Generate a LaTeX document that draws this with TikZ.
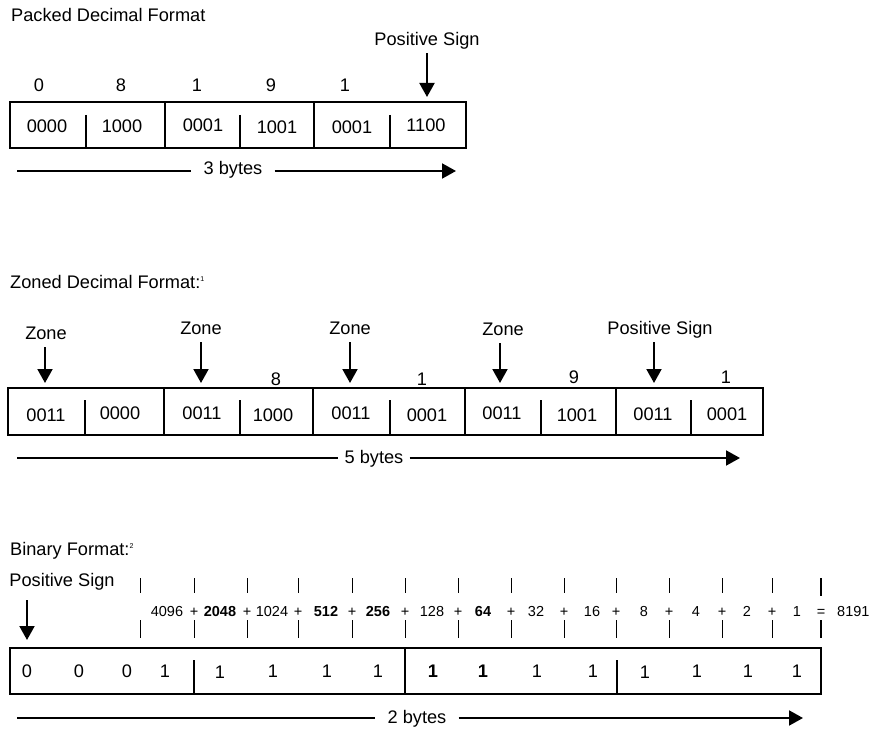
\documentclass[tikz,border=0pt]{standalone}
\usepackage{fontspec}
\setmainfont{Liberation Sans}
\usetikzlibrary{arrows.meta}
\tikzset{
  heading/.style = {
    anchor=base west, inner sep=0pt, font=\fontsize{18.2}{20}\selectfont
  },
  tag/.style = {
    anchor=base, inner sep=0pt, text depth=4pt,
    font=\fontsize{18.2}{20}\selectfont
  },
  cell/.style = {
    anchor=base, inner sep=0pt, font=\fontsize{18.2}{20}\selectfont
  },
  weight/.style = {
    anchor=base, inner sep=0pt, font=\fontsize{14.5}{16}\selectfont
  },
  extent/.style = {
    anchor=base, inner sep=0pt, inner xsep=12pt,
    font=\fontsize{18.2}{20}\selectfont
  },
  frame/.style = { draw=black, line width=1.5pt },
  nibble/.style = { draw=black, line width=1.9pt },
  thinframe/.style = { draw=black, line width=1.1pt },
  pointer/.style = {
    draw=black, line width=2pt, shorten <=3pt,
    -{Triangle[length=14pt,width=15pt]}
  },
  bar/.style = { draw=black, line width=2pt },
  bararrow/.style = { bar, -{Triangle[length=14pt,width=15pt]} },
  tick/.style = { draw=black, line width=1pt }
}

\begin{document}
\begin{tikzpicture}[x=1pt, y=-1pt]

    \useasboundingbox (0,0) rectangle (871,730);

    % ------------------------------------------------------ Packed decimal
    \node [heading] (packtitle) at (11,22) {Packed Decimal Format};

    \node [tag] (psign1) at (427,46) {Positive Sign};
    \coordinate (psign1tip) at (427,97);

    \node [cell] (pd1) at (39,92)  {0};
    \node [cell] (pd2) at (121,92) {8};
    \node [cell] (pd3) at (197,92) {1};
    \node [cell] (pd4) at (271,92) {9};
    \node [cell] (pd5) at (345,92) {1};

    \draw [frame]  (10,102) rectangle (466,148);
    \draw [nibble] (165,102) -- (165,148);
    \draw [nibble] (314,102) -- (314,148);
    \draw [nibble] (86,115)  -- (86,148);
    \draw [nibble] (240,115) -- (240,148);
    \draw [nibble] (390,115) -- (390,148);

    \node [cell] (pc1) at (47,133)  {0000};
    \node [cell] (pc2) at (122,133) {1000};
    \node [cell] (pc3) at (203,132) {0001};
    \node [cell] (pc4) at (277,134) {1001};
    \node [cell] (pc5) at (352,134) {0001};
    \node [cell] (pc6) at (426,132) {1100};

    \node [extent] (bytes3) at (233,175) {3 bytes};
    \coordinate (b3from) at (17,171);
    \coordinate (b3to)   at (456,171);

    \draw [pointer] (psign1.south) -- (psign1tip);
    \draw [bar]      (b3from) -- (b3from -| bytes3.west);
    \draw [bararrow] (b3from -| bytes3.east) -- (b3to);

    % ------------------------------------------------------- Zoned decimal
    \node [heading] (zonetitle) at (10,289)
      {Zoned Decimal Format:\raisebox{7pt}{\fontsize{7}{8}\selectfont 1}};

    \node [tag] (zone1)  at (46,340)  {Zone};
    \node [tag] (zone2)  at (201,335) {Zone};
    \node [tag] (zone3)  at (350,335) {Zone};
    \node [tag] (zone4)  at (503,336) {Zone};
    \node [tag] (psign2) at (660,335) {Positive Sign};
    \coordinate (zone1tip)  at (45,383);
    \coordinate (zone2tip)  at (201,383);
    \coordinate (zone3tip)  at (350,383);
    \coordinate (zone4tip)  at (500,383);
    \coordinate (psign2tip) at (654,383);

    \node [cell] (zd1) at (276,385) {8};
    \node [cell] (zd2) at (422,385) {1};
    \node [cell] (zd3) at (574,384) {9};
    \node [cell] (zd4) at (726,384) {1};

    \draw [frame]  (8,388) rectangle (763,435);
    \draw [nibble] (164,388) -- (164,435);
    \draw [nibble] (313,388) -- (313,435);
    \draw [nibble] (465,388) -- (465,435);
    \draw [nibble] (616,388) -- (616,435);
    \draw [nibble] (85,400)  -- (85,435);
    \draw [nibble] (240,400) -- (240,435);
    \draw [nibble] (390,400) -- (390,435);
    \draw [nibble] (541,400) -- (541,435);
    \draw [nibble] (691,400) -- (691,435);

    \node [cell] (zc1)  at (46,421)  {0011};
    \node [cell] (zc2)  at (120,419) {0000};
    \node [cell] (zc3)  at (202,419) {0011};
    \node [cell] (zc4)  at (273,421) {1000};
    \node [cell] (zc5)  at (351,419) {0011};
    \node [cell] (zc6)  at (427,421) {0001};
    \node [cell] (zc7)  at (502,419) {0011};
    \node [cell] (zc8)  at (577,421) {1001};
    \node [cell] (zc9)  at (653,420) {0011};
    \node [cell] (zc10) at (727,420) {0001};

    \node [extent, inner xsep=6pt] (bytes5) at (374,463) {5 bytes};
    \coordinate (b5from) at (17,458);
    \coordinate (b5to)   at (740,458);

    \draw [pointer] (zone1.south -| zone1tip)   -- (zone1tip);
    \draw [pointer] (zone2.south -| zone2tip)   -- (zone2tip);
    \draw [pointer] (zone3.south -| zone3tip)   -- (zone3tip);
    \draw [pointer] (zone4.south -| zone4tip)   -- (zone4tip);
    \draw [pointer] (psign2.south -| psign2tip) -- (psign2tip);
    \draw [bar]      (b5from) -- (b5from -| bytes5.west);
    \draw [bararrow] (b5from -| bytes5.east) -- (b5to);

    % -------------------------------------------------------------- Binary
    \node [heading] (bintitle) at (10,555)
      {Binary Format:\raisebox{7pt}{\fontsize{7}{8}\selectfont 2}};

    \node [tag] (psign3) at (62,586) {Positive Sign};
    \coordinate (psign3tip) at (27,640);

    % weights row
    \node [weight] (w1)  at (167,616) {4096};
    \node [weight] (w2)  at (220,616) {\bfseries 2048};
    \node [weight] (w3)  at (272,616) {1024};
    \node [weight] (w4)  at (326,616) {\bfseries 512};
    \node [weight] (w5)  at (378,616) {\bfseries 256};
    \node [weight] (w6)  at (432,616) {128};
    \node [weight] (w7)  at (483,616) {\bfseries 64};
    \node [weight] (w8)  at (536,616) {32};
    \node [weight] (w9)  at (592,616) {16};
    \node [weight] (w10) at (644,616) {8};
    \node [weight] (w11) at (696,616) {4};
    \node [weight] (w12) at (747,616) {2};
    \node [weight] (w13) at (797,616) {1};

    \node [weight] (p1)  at (194,616) {+};
    \node [weight] (p2)  at (247,616) {+};
    \node [weight] (p3)  at (298,616) {+};
    \node [weight] (p4)  at (352,616) {+};
    \node [weight] (p5)  at (405,616) {+};
    \node [weight] (p6)  at (458,616) {+};
    \node [weight] (p7)  at (511,616) {+};
    \node [weight] (p8)  at (564,616) {+};
    \node [weight] (p9)  at (616,616) {+};
    \node [weight] (p10) at (669,616) {+};
    \node [weight] (p11) at (722,616) {+};
    \node [weight] (p12) at (772,616) {+};
    \node [weight] (equal) at (821,616) {=};
    \node [weight, anchor=base west] (total) at (837,616) {8191};

    % upper and lower tick marks
    \draw [tick] (140,578) -- (140,593);  \draw [tick] (140,620) -- (140,638);
    \draw [tick] (194,578) -- (194,593);  \draw [tick] (194,620) -- (194,638);
    \draw [tick] (247,578) -- (247,593);  \draw [tick] (247,620) -- (247,638);
    \draw [tick] (298,578) -- (298,593);  \draw [tick] (298,620) -- (298,638);
    \draw [tick] (352,578) -- (352,593);  \draw [tick] (352,620) -- (352,638);
    \draw [tick] (405,578) -- (405,593);  \draw [tick] (405,620) -- (405,638);
    \draw [tick] (458,578) -- (458,593);  \draw [tick] (458,620) -- (458,638);
    \draw [tick] (511,578) -- (511,593);  \draw [tick] (511,620) -- (511,638);
    \draw [tick] (564,578) -- (564,593);  \draw [tick] (564,620) -- (564,638);
    \draw [tick] (616,578) -- (616,593);  \draw [tick] (616,620) -- (616,638);
    \draw [tick] (669,578) -- (669,593);  \draw [tick] (669,620) -- (669,638);
    \draw [tick] (722,578) -- (722,593);  \draw [tick] (722,620) -- (722,638);
    \draw [tick] (772,578) -- (772,593);  \draw [tick] (772,620) -- (772,638);
    \draw [tick, line width=1.6pt] (821,578) -- (821,596);
    \draw [tick, line width=1.6pt] (821,620) -- (821,638);

    % bits
    \draw [thinframe] (10,648) rectangle (821,694);
    \draw [thinframe] (194,660) -- (194,694);
    \draw [thinframe] (405,648) -- (405,694);
    \draw [thinframe] (617,660) -- (617,694);

    \node [cell] (bit1)  at (27,677)  {0};
    \node [cell] (bit2)  at (79,677)  {0};
    \node [cell] (bit3)  at (127,677) {0};
    \node [cell] (bit4)  at (165,677) {1};
    \node [cell] (bit5)  at (220,678) {1};
    \node [cell] (bit6)  at (273,677) {1};
    \node [cell] (bit7)  at (327,677) {1};
    \node [cell] (bit8)  at (378,677) {1};
    \node [cell] (bit9)  at (433,677) {\bfseries 1};
    \node [cell] (bit10) at (483,677) {\bfseries 1};
    \node [cell] (bit11) at (537,677) {1};
    \node [cell] (bit12) at (593,677) {1};
    \node [cell] (bit13) at (645,678) {1};
    \node [cell] (bit14) at (697,677) {1};
    \node [cell] (bit15) at (748,677) {1};
    \node [cell] (bit16) at (797,677) {1};

    \node [extent] (bytes2) at (417,723) {2 bytes};
    \coordinate (b2from) at (17,718);
    \coordinate (b2to)   at (803,718);

    \draw [pointer, shorten <=10pt] (psign3.south -| psign3tip) -- (psign3tip);
    \draw [bar]      (b2from) -- (b2from -| bytes2.west);
    \draw [bararrow] (b2from -| bytes2.east) -- (b2to);

\end{tikzpicture}
\end{document}
